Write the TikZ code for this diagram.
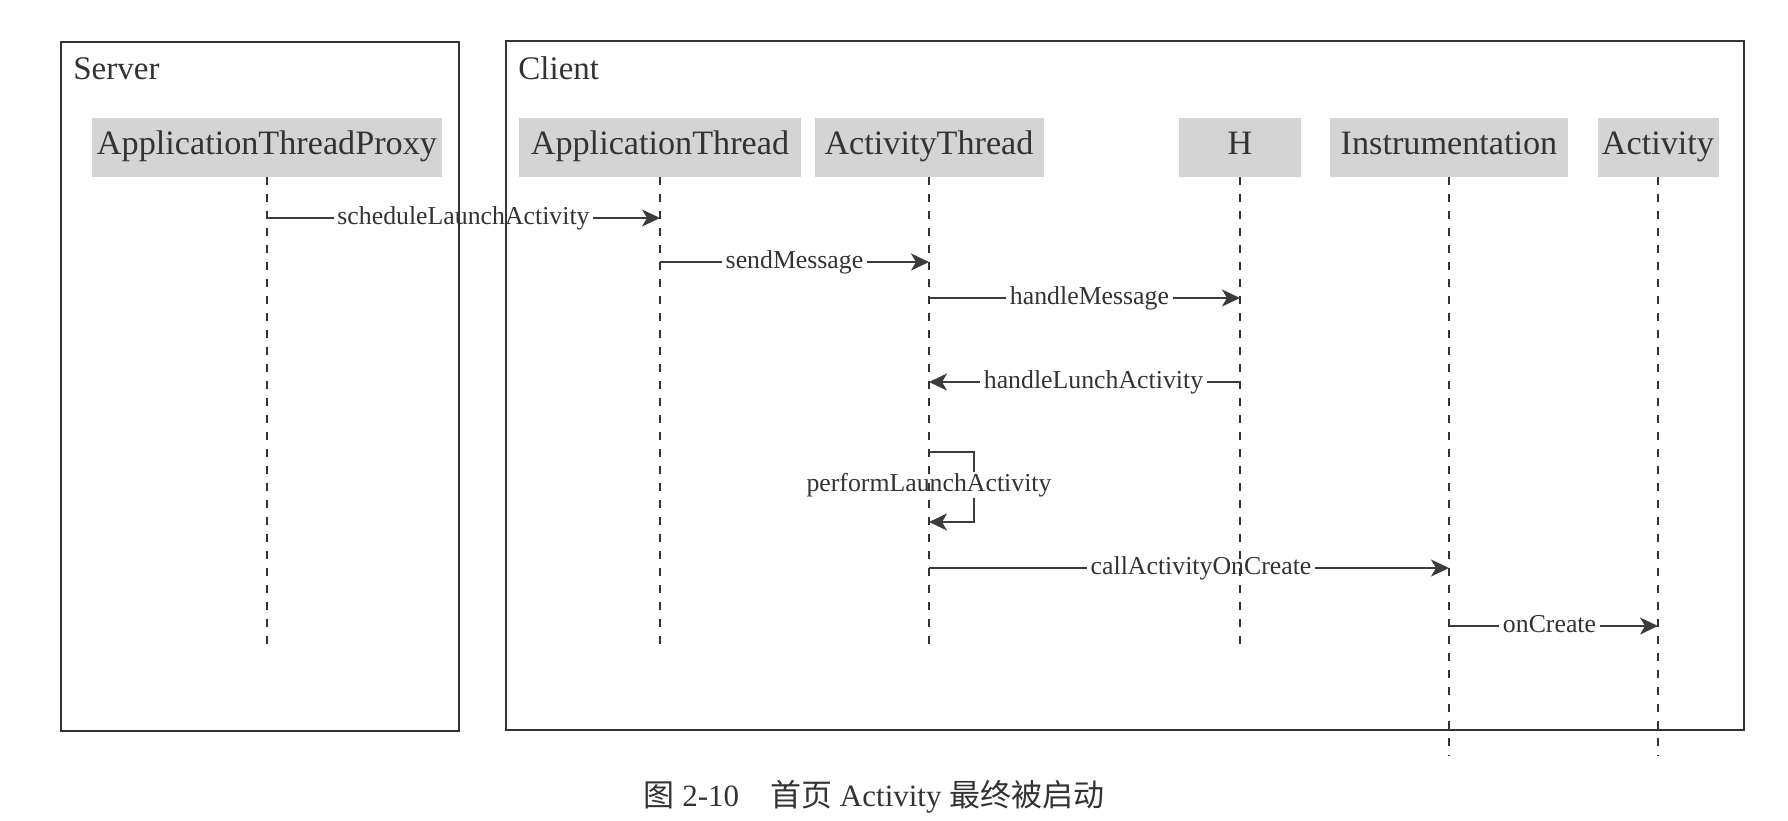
\documentclass[tikz,border=0pt]{standalone}
\usepackage{fontspec}
\setmainfont{Liberation Serif}
\newfontfamily\cjkfont{Noto Sans CJK SC}
\usetikzlibrary{arrows.meta,calc}
\definecolor{ink}{RGB}{51,51,51}
\definecolor{hdrfill}{RGB}{212,212,212}
\definecolor{arrowc}{RGB}{60,60,60}
\begin{document}
\begin{tikzpicture}[x=0.5pt,y=-0.5pt,
  frame/.style={draw=ink,line width=1pt,inner sep=0pt,anchor=north west},
  hdr/.style={fill=hdrfill,inner sep=0pt,text height=18.5pt,text depth=11pt,
    font=\fontsize{17.1}{20}\selectfont,text=ink},
  life/.style={draw=ink,line width=1.2pt,dash pattern=on 4pt off 4.5pt},
  msg/.style={draw=arrowc,line width=0.9pt},
  tip/.style={-{Stealth[length=9pt,width=8.5pt,inset=2.5pt]}},
  lbl/.style={font=\fontsize{12.9}{15}\selectfont,text=ink,inner xsep=1.6pt,inner ysep=2pt,
    text height=0.75em,text depth=0.1em},
  boxtitle/.style={font=\fontsize{16.5}{19}\selectfont,text=ink,anchor=base west,inner sep=0pt},
]
\useasboundingbox (0,0) rectangle (1788,820);

% frames
\node[frame,minimum width=199pt,minimum height=344.5pt] (server) at (60,41) {};
\node[frame,minimum width=619pt,minimum height=344.5pt] (client) at (505,40) {};
\node[boxtitle] (servert) at (73,79) {Server};
\node[boxtitle] (clientt) at (518,79) {Client};

% headers
\node[hdr,minimum width=175pt] (atp) at (267,147) {ApplicationThreadProxy};
\node[hdr,minimum width=141pt] (apt) at (660,147) {ApplicationThread};
\node[hdr,minimum width=114.5pt] (act) at (929,147) {ActivityThread};
\node[hdr,minimum width=61pt] (h) at (1240,147) {H};
\node[hdr,minimum width=119pt] (ins) at (1449,147) {Instrumentation};
\node[hdr,minimum width=60.5pt] (acy) at (1658,147) {Activity};

% lifelines
\coordinate (atpE) at (atp.south |- 0,652);
\coordinate (aptE) at (apt.south |- 0,652);
\coordinate (actE) at (act.south |- 0,652);
\coordinate (hE) at (h.south |- 0,652);
\coordinate (insE) at (ins.south |- 0,755);
\coordinate (acyE) at (acy.south |- 0,755);
\draw[life] (atp.south) -- (atpE);
\draw[life] (apt.south) -- (aptE);
\draw[life] (act.south) -- (actE);
\draw[life] (h.south) -- (hE);
\draw[life] (ins.south) -- (insE);
\draw[life] (acy.south) -- (acyE);

% message anchor points
\coordinate (m1a) at (atp.south |- 0,218);
\coordinate (m1b) at (apt.south |- 0,218);
\coordinate (m2a) at (apt.south |- 0,262);
\coordinate (m2b) at (act.south |- 0,262);
\coordinate (m3a) at (act.south |- 0,298);
\coordinate (m3b) at (h.south |- 0,298);
\coordinate (m4a) at (h.south |- 0,382);
\coordinate (m4b) at (act.south |- 0,382);
\coordinate (m6a) at (act.south |- 0,568);
\coordinate (m6b) at (ins.south |- 0,568);
\coordinate (m7a) at (ins.south |- 0,626);
\coordinate (m7b) at (acy.south |- 0,626);

% scheduleLaunchActivity
\node[lbl] (l1) at ($(m1a)!0.5!(m1b)$) {scheduleLaunchActivity};
\draw[msg] (m1a) -- (l1.west);
\draw[msg,tip] (l1.east) -- (m1b);

% sendMessage
\node[lbl] (l2) at ($(m2a)!0.5!(m2b)$) {sendMessage};
\draw[msg] (m2a) -- (l2.west);
\draw[msg,tip] (l2.east) -- (m2b);

% handleMessage
\node[lbl,xshift=2.5pt] (l3) at ($(m3a)!0.5!(m3b)$) {handleMessage};
\draw[msg] (m3a) -- (l3.west);
\draw[msg,tip] (l3.east) -- (m3b);

% handleLunchActivity
\node[lbl,xshift=4.5pt] (l4) at ($(m4a)!0.5!(m4b)$) {handleLunchActivity};
\draw[msg] (m4a) -- (l4.east);
\draw[msg,tip] (l4.west) -- (m4b);

% performLaunchActivity (self call)
\coordinate (p1) at (act.south |- 0,452);
\coordinate (p2) at (act.south |- 0,522);
\coordinate (p1r) at (974,452);
\coordinate (p2r) at (974,522);
\node[lbl] (l5) at (act.south |- 0,485) {performLaunchActivity};
\draw[msg] (p1) -- (p1r) -- (p1r |- l5.north);
\draw[msg,tip] (p1r |- l5.south) -- (p2r) -- (p2);

% callActivityOnCreate
\node[lbl,xshift=6pt] (l6) at ($(m6a)!0.5!(m6b)$) {callActivityOnCreate};
\draw[msg] (m6a) -- (l6.west);
\draw[msg,tip] (l6.east) -- (m6b);

% onCreate
\node[lbl,xshift=-2pt] (l7) at ($(m7a)!0.5!(m7b)$) {onCreate};
\draw[msg] (m7a) -- (l7.west);
\draw[msg,tip] (l7.east) -- (m7b);

% caption
\node[font=\fontsize{15.5}{18}\selectfont,text=ink] (cap) at (874,797)
  {{\cjkfont 图} 2-10\quad{\cjkfont 首页} Activity {\cjkfont 最终被启动}};
\end{tikzpicture}
\end{document}
